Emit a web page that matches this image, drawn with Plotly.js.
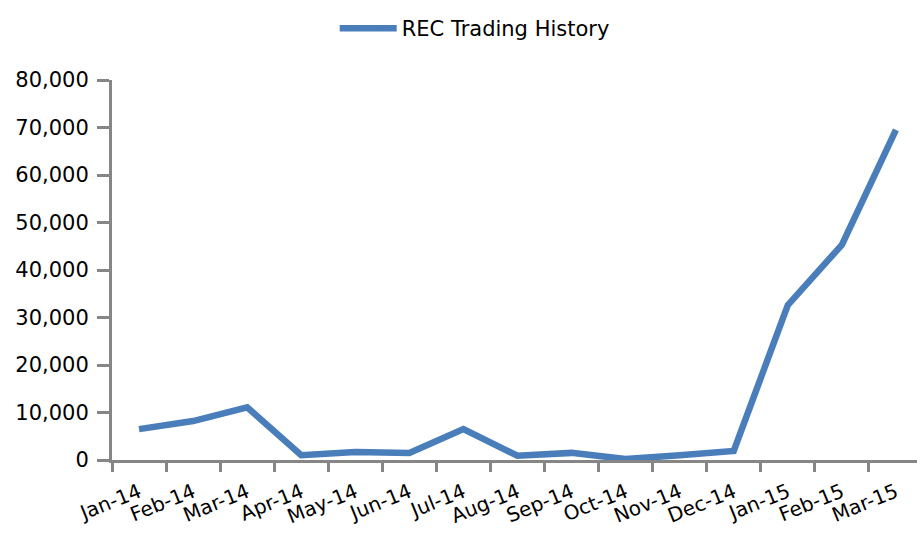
<!DOCTYPE html>
<html>
<head>
<meta charset="utf-8">
<script src="https://cdn.plot.ly/plotly-3.0.1.min.js"></script>
<style>html,body{margin:0;padding:0;background:#fff;}#chart{width:917px;height:533px;}</style>
</head>
<body>
<div id="chart"></div>
<script>
const months = ['Jan-14','Feb-14','Mar-14','Apr-14','May-14','Jun-14','Jul-14','Aug-14','Sep-14','Oct-14','Nov-14','Dec-14','Jan-15','Feb-15','Mar-15'];
const recTrades = [6500, 8200, 11100, 1000, 1700, 1500, 6500, 900, 1500, 200, 1000, 1900, 32600, 45300, 69500];
const seriesName = 'REC Trading History';

const trace = {
  x: months,
  y: recTrades,
  type: 'scatter',
  mode: 'lines',
  name: seriesName,
  line: {color: '#4A7EBB', width: 6.5},
  showlegend: true
};

const layout = {
  width: 917, height: 533,
  margin: {l: 112, r: 0, t: 80, b: 73},
  paper_bgcolor: '#fff', plot_bgcolor: '#fff',
  font: {family: 'DejaVu Sans, sans-serif', size: 21, color: '#000'},
  showlegend: true,
  legend: {orientation: 'h', xref: 'container', yref: 'container', x: 0.365, xanchor: 'left', y: 0.985, yanchor: 'top',
           font: {size: 21, color: '#000'}, itemwidth: 57},
  xaxis: {
    type: 'category', range: [-0.5, 14.39],
    showline: true, linecolor: '#868686', linewidth: 3,
    ticks: 'outside', tickson: 'boundaries', ticklen: 9, tickwidth: 3, tickcolor: '#868686',
    tickangle: -22, ticklabelstandoff: 10, showgrid: false, zeroline: false, fixedrange: true,
    tickfont: {size: 20, color: '#000'}
  },
  yaxis: {
    range: [0, 80000], dtick: 10000, tickformat: ',',
    showline: true, linecolor: '#868686', linewidth: 3,
    ticks: 'outside', ticklen: 12, tickwidth: 3, tickcolor: '#868686',
    ticklabelstandoff: 4,
    showgrid: false, zeroline: false, fixedrange: true,
    tickfont: {size: 21, color: '#000'}
  }
};

Plotly.newPlot('chart', [trace], layout, {displayModeBar: false, staticPlot: true});
</script>
</body>
</html>
